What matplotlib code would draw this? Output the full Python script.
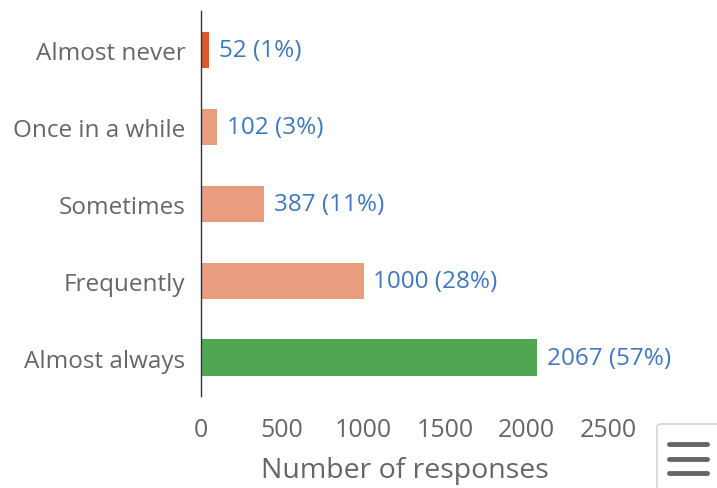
import matplotlib.pyplot as plt
from matplotlib.patches import FancyBboxPatch
from matplotlib.lines import Line2D

categories = ["Almost never", "Once in a while", "Sometimes", "Frequently", "Almost always"]
counts = [52, 102, 387, 1000, 2067]
colors = ["#e0592b", "#e89d7f", "#e89d7f", "#e89d7f", "#4fa751"]
xticks = [0, 500, 1000, 1500, 2000, 2500]

plt.rcParams['font.family'] = ['Open Sans', 'DejaVu Sans']

fig = plt.figure(figsize=(7.17, 4.89), dpi=100)
ax = fig.add_axes([0.280, 0.188, 0.568, 0.787])

total = sum(counts)
ypos = list(range(len(categories)))[::-1]
ax.barh(ypos, counts, height=0.47, color=colors)

for y, c in zip(ypos, counts):
    ax.annotate(f"{c} ({round(100 * c / total)}%)", (c, y), xytext=(7, 0),
                textcoords="offset points", va="center", ha="left",
                fontsize=17.5, color="#3f78c0")

ax.set_xlim(0, 2500)
ax.set_ylim(-0.5, 4.5)
ax.set_yticks(ypos)
ax.set_yticklabels(categories, fontsize=17.5, color="#666666")
ax.set_xticks(xticks)
ax.set_xticklabels([str(t) for t in xticks], fontsize=18, color="#666666")
ax.tick_params(axis="y", length=0, pad=11)
ax.tick_params(axis="x", length=0, pad=15)
ax.set_xlabel("Number of responses", fontsize=20.5, color="#666666", labelpad=10)

for s in ["top", "right", "bottom"]:
    ax.spines[s].set_visible(False)
ax.spines["left"].set_color("#333333")
ax.spines["left"].set_linewidth(1)

# menu button in the corner
fig.patches.append(FancyBboxPatch((657 / 717, -0.05), 0.2, 0.05 + 64 / 489,
                                  boxstyle="round,pad=0,rounding_size=0.006",
                                  transform=fig.transFigure, facecolor="white",
                                  edgecolor="#cccccc", linewidth=1))
for yy in [445, 460, 474]:
    fig.lines.append(Line2D([669 / 717, 707 / 717], [1 - yy / 489, 1 - yy / 489],
                            transform=fig.transFigure, color="#666666",
                            linewidth=3.5, solid_capstyle="round"))

fig.savefig("out.png", dpi=100)
